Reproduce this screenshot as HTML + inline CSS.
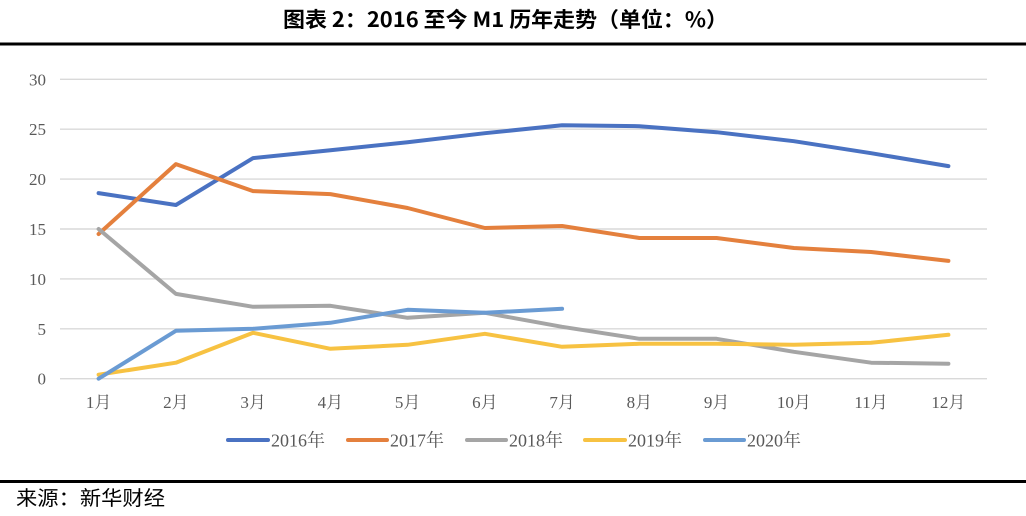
<!DOCTYPE html>
<html>
<head>
<meta charset="utf-8">
<style>
  html,body{margin:0;padding:0;background:#fff;}
  svg{display:block;}
  .tick{font-family:"Liberation Serif","Noto Serif CJK SC",serif;font-size:17px;fill:#595959;}
  .leg{font-family:"Liberation Serif","Noto Serif CJK SC",serif;font-size:18px;fill:#595959;}
</style>
</head>
<body>
<svg width="1026" height="516" viewBox="0 0 1026 516" xmlns="http://www.w3.org/2000/svg">
  <rect width="1026" height="516" fill="#fff"/>
  <!-- Title -->
  <text x="283" y="27" textLength="445" lengthAdjust="spacingAndGlyphs" font-family="'Noto Sans CJK SC','Liberation Sans',sans-serif" font-weight="bold" font-size="21" fill="#000">图表 2：2016 至今 M1 历年走势（单位：%）</text>
  <rect x="0" y="42.5" width="1026" height="3" fill="#000"/>

  <!-- gridlines -->
  <g stroke="#D9D9D9" stroke-width="1.4">
    <line x1="60" y1="79.3" x2="987" y2="79.3"/>
    <line x1="60" y1="129.2" x2="987" y2="129.2"/>
    <line x1="60" y1="179.1" x2="987" y2="179.1"/>
    <line x1="60" y1="229" x2="987" y2="229"/>
    <line x1="60" y1="278.9" x2="987" y2="278.9"/>
    <line x1="60" y1="328.8" x2="987" y2="328.8"/>
    <line x1="60" y1="378.7" x2="987" y2="378.7"/>
  </g>

  <!-- y tick labels -->
  <g class="tick" text-anchor="end">
    <text x="46" y="85.3">30</text>
    <text x="46" y="135.2">25</text>
    <text x="46" y="185.1">20</text>
    <text x="46" y="235">15</text>
    <text x="46" y="284.9">10</text>
    <text x="46" y="334.8">5</text>
    <text x="46" y="384.7">0</text>
  </g>

  <!-- x tick labels -->
  <g class="tick" text-anchor="middle">
    <text x="98.6" y="408">1月</text>
    <text x="175.9" y="408">2月</text>
    <text x="253.1" y="408">3月</text>
    <text x="330.4" y="408">4月</text>
    <text x="407.6" y="408">5月</text>
    <text x="484.9" y="408">6月</text>
    <text x="562.1" y="408">7月</text>
    <text x="639.4" y="408">8月</text>
    <text x="716.6" y="408">9月</text>
    <text x="793.9" y="408">10月</text>
    <text x="871.1" y="408">11月</text>
    <text x="948.4" y="408">12月</text>
  </g>

  <!-- series -->
  <g fill="none" stroke-width="4" stroke-linejoin="round" stroke-linecap="round">
    <!-- 2016 -->
    <polyline stroke="#4A72C2" points="98.6,193.1 175.9,205.0 253.1,158.1 330.4,150.2 407.6,142.2 484.9,133.2 562.1,125.2 639.4,126.2 716.6,132.2 793.9,141.2 871.1,153.2 948.4,166.1"/>
    <!-- 2017 -->
    <polyline stroke="#E4803D" points="98.6,234.0 175.9,164.1 253.1,191.1 330.4,194.1 407.6,208.0 484.9,228.0 562.1,226.0 639.4,238.0 716.6,238.0 793.9,248.0 871.1,252.0 948.4,260.9"/>
    <!-- 2018 -->
    <polyline stroke="#A5A5A5" points="98.6,229.0 175.9,293.9 253.1,306.8 330.4,305.8 407.6,317.8 484.9,312.8 562.1,326.8 639.4,338.8 716.6,338.8 793.9,351.8 871.1,362.7 948.4,363.7"/>
    <!-- 2019 -->
    <polyline stroke="#F7C242" points="98.6,374.7 175.9,362.7 253.1,332.8 330.4,348.8 407.6,344.8 484.9,333.8 562.1,346.8 639.4,343.8 716.6,343.8 793.9,344.8 871.1,342.8 948.4,334.8"/>
    <!-- 2020 -->
    <polyline stroke="#6A9BD3" points="98.6,378.7 175.9,330.8 253.1,328.8 330.4,322.8 407.6,309.8 484.9,312.8 562.1,308.8"/>
  </g>

  <!-- legend -->
  <g stroke-width="4" stroke-linecap="round">
    <line x1="228" y1="440" x2="268" y2="440" stroke="#4A72C2"/>
    <line x1="348" y1="440" x2="387" y2="440" stroke="#E4803D"/>
    <line x1="467" y1="440" x2="506" y2="440" stroke="#A5A5A5"/>
    <line x1="585" y1="440" x2="625" y2="440" stroke="#F7C242"/>
    <line x1="705" y1="440" x2="744" y2="440" stroke="#6A9BD3"/>
  </g>
  <g class="leg">
    <text x="271" y="446.5" textLength="54" lengthAdjust="spacingAndGlyphs">2016年</text>
    <text x="390" y="446.5" textLength="54" lengthAdjust="spacingAndGlyphs">2017年</text>
    <text x="509" y="446.5" textLength="54" lengthAdjust="spacingAndGlyphs">2018年</text>
    <text x="628" y="446.5" textLength="54" lengthAdjust="spacingAndGlyphs">2019年</text>
    <text x="747" y="446.5" textLength="54" lengthAdjust="spacingAndGlyphs">2020年</text>
  </g>

  <!-- bottom rule and source -->
  <rect x="0" y="480" width="1026" height="3" fill="#000"/>
  <text x="16" y="505" textLength="149" lengthAdjust="spacingAndGlyphs" font-family="'Noto Sans CJK SC','Liberation Sans',sans-serif" font-size="20" fill="#000">来源：新华财经</text>
</svg>
</body>
</html>
